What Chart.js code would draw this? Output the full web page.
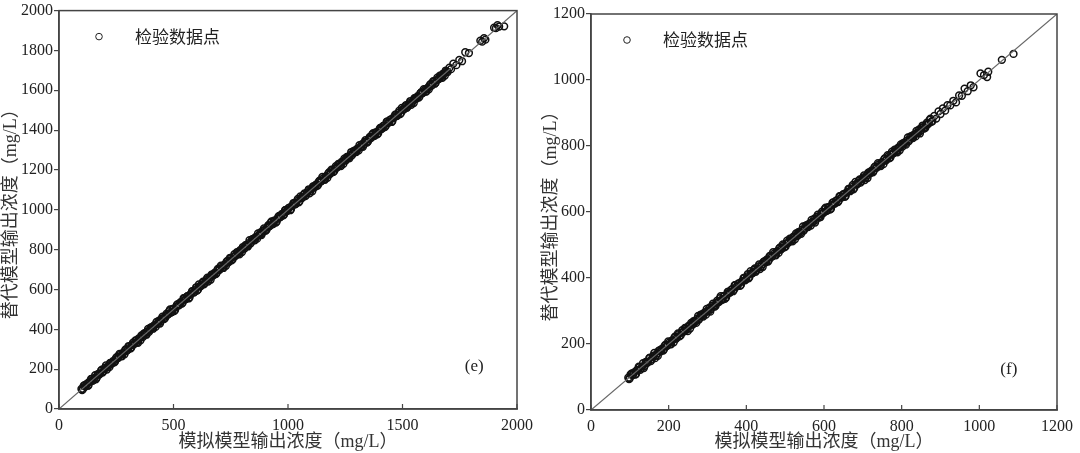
<!DOCTYPE html>
<html>
<head>
<meta charset="utf-8">
<script src="https://cdn.jsdelivr.net/npm/chart.js@4.4.1/dist/chart.umd.min.js"></script>
<style>
  body { margin: 0; background: #fff; }
  #wrap { position: relative; width: 1080px; height: 453px; }
  canvas { position: absolute; top: 0; }
  #c1 { left: 0; }
  #c2 { left: 540px; }
</style>
</head>
<body>
<div id="wrap">
  <canvas id="c1" width="540" height="453"></canvas>
  <canvas id="c2" width="540" height="453"></canvas>
</div>
<script>
// (e) 模拟模型输出浓度 vs 替代模型输出浓度, two batches of check points
const modelE = [98,105,112,118,126,133,140,147,155,161,169,176,184,190,198,205,213,220,227,235,242,249,257,264,271,279,286,293,301,308,316,323,330,338,345,352,360,367,375,382,389,397,404,411,419,426,434,441,448,456,463,470,478,485,493,500,507,515,522,530,537,544,552,559,566,574,581,589,596,603,611,618,626,633,640,648,655,662,670,677,685,692,699,707,714,722,729,736,744,751,758,766,773,781,788,795,803,810,818,825,832,840,847,855,862,869,877,884,891,899,906,914,921,928,936,943,951,958,965,973,980,987,995,1002,1010,1017,1024,1032,1039,1047,1054,1061,1069,1076,1083,1091,1098,1106,1113,1120,1128,1135,1143,1150,1157,1165,1172,1180,1187,1194,1202,1209,1216,1224,1231,1239,1246,1253,1261,1268,1276,1283,1290,1298,1305,1312,1320,1327,1335,1342,1349,1357,1364,1372,1379,1386,1394,1401,1408,1416,1423,1431,1438,1445,1453,1460,1468,1475,1482,1490,1497,1504,1512,1519,1527,1534,1541,1549,1556,1564,1571,1578,1586,1593,1600,1608,1615,1623,1630,1637,1645,1652,1660,1667,1674,1682,1689,1697,1705,1712,1722,1735,1748,1760,1774,1790,1840,1848,1856,1862,1900,1908,1915,1922,1944];
const surrogateE = [101,100,120,116,117,137,151,141,156,149,175,173,193,183,200,219,209,210,232,235,234,256,256,276,265,282,275,301,298,313,309,333,328,344,332,353,369,362,379,373,402,396,411,403,421,437,430,429,454,456,456,479,476,500,487,503,497,523,519,535,529,556,551,565,555,576,591,584,600,594,625,616,633,626,641,659,651,649,675,677,677,700,698,720,708,725,719,745,741,757,751,777,771,786,776,797,813,805,822,816,848,839,854,847,863,881,873,873,897,899,899,923,919,942,930,946,941,966,962,978,972,998,994,1008,998,1019,1034,1027,1043,1038,1067,1059,1076,1069,1084,1103,1094,1093,1118,1120,1120,1143,1142,1165,1151,1168,1161,1189,1184,1200,1195,1219,1214,1229,1219,1241,1257,1248,1265,1259,1290,1282,1297,1290,1306,1324,1316,1316,1341,1342,1342,1366,1362,1385,1373,1389,1384,1409,1405,1421,1415,1442,1437,1451,1441,1462,1478,1470,1486,1481,1512,1502,1519,1512,1528,1546,1537,1536,1561,1564,1563,1586,1585,1606,1594,1611,1605,1632,1627,1643,1638,1663,1658,1672,1662,1684,1699,1692,1713,1706,1734,1726,1752,1746,1791,1787,1849,1844,1862,1854,1914,1912,1927,1920,1921];
const modelE2 = [101,108,115,122,129,137,144,151,158,165,172,180,187,194,201,209,216,223,231,238,245,253,260,267,275,282,289,297,304,312,319,326,334,341,348,356,363,371,378,385,393,400,407,415,422,430,437,444,452,459,466,474,481,489,496,503,511,518,526,533,540,548,555,562,570,577,585,592,599,607,614,622,629,636,644,651,658,666,673,681,688,695,703,710,718,725,732,740,747,754,762,769,777,784,791,799,806,814,821,828,836,843,851,858,865,873,880,887,895,902,910,917,924,932,939,947,954,961,969,976,983,991,998,1006,1013,1020,1028,1035,1043,1050,1057,1065,1072,1079,1087,1094,1102,1109,1116,1124,1131,1139,1146,1153,1161,1168,1176,1183,1190,1198,1205,1212,1220,1227,1235,1242,1249,1257,1264,1272,1279,1286,1294,1301,1309,1316,1323,1331,1338,1345,1353,1360,1368,1375,1382,1390,1397,1405,1412,1419,1427,1434,1441,1449,1456,1464,1471,1478,1486,1493,1501,1508,1515,1523,1530,1538,1545,1552,1560,1567,1574,1582,1589,1597,1604,1611,1619,1626,1634,1641,1648,1656,1663,1670,1678,1685,1693];
const surrogateE2 = [95,117,113,127,119,138,151,147,170,157,175,179,197,189,207,198,218,231,228,242,239,262,258,272,265,283,296,293,316,304,322,325,344,336,354,345,365,379,375,389,387,409,405,420,412,431,444,440,464,451,469,473,491,484,502,492,513,526,523,537,534,557,553,567,560,578,592,588,611,599,617,621,639,631,650,640,660,674,670,685,682,704,701,715,708,726,739,736,759,746,765,768,787,779,797,788,808,822,818,832,830,852,849,863,855,874,887,883,907,894,913,916,934,927,945,936,956,969,966,980,977,1000,996,1011,1003,1021,1035,1031,1055,1042,1060,1064,1082,1074,1093,1083,1104,1117,1113,1128,1125,1148,1144,1158,1151,1169,1183,1179,1202,1190,1208,1211,1230,1222,1241,1231,1251,1265,1261,1276,1273,1295,1292,1306,1299,1317,1330,1327,1350,1337,1356,1359,1378,1370,1388,1379,1399,1413,1409,1423,1421,1443,1439,1454,1446,1465,1478,1474,1498,1485,1504,1507,1525,1518,1536,1527,1547,1560,1557,1571,1568,1591,1587,1602,1594,1612,1626,1622,1646,1633,1651,1655,1673,1665,1684,1674,1695];

// (f)
const modelF = [96,100,105,109,114,118,123,127,132,136,141,145,150,154,159,163,168,172,177,181,186,190,195,199,204,208,213,217,222,226,231,235,240,244,249,253,258,262,267,271,276,280,285,289,294,298,303,307,312,316,321,325,330,334,339,343,348,352,357,361,366,370,375,379,384,388,393,397,402,406,411,415,420,424,429,433,438,442,447,451,456,460,465,469,474,478,483,487,492,496,501,505,510,514,519,523,528,532,537,541,546,550,555,559,564,568,573,577,582,586,591,595,600,604,609,613,618,622,627,631,636,640,645,649,654,658,663,667,672,676,681,685,690,694,699,703,708,712,717,721,726,730,735,739,744,748,753,757,762,766,771,775,780,784,789,793,798,802,807,811,816,820,825,829,834,838,843,847,852,856,861,865,870,874,879,884,889,895,900,906,912,918,925,933,940,948,955,962,970,978,985,1003,1012,1020,1023,1058,1088];
const surrogateF = [98,96,111,108,107,121,131,122,132,127,146,143,157,148,160,173,165,164,181,181,180,195,194,208,200,210,205,223,220,230,226,242,239,247,239,254,264,259,269,264,285,279,290,283,295,306,300,298,316,316,316,331,328,345,335,345,341,358,355,364,360,378,374,383,376,389,400,393,405,399,421,414,425,419,429,441,435,433,451,451,450,466,464,478,470,480,476,493,490,499,495,513,509,518,511,524,535,528,540,534,556,549,560,554,565,576,570,568,586,586,585,601,599,613,605,615,610,628,625,634,630,648,644,653,646,659,670,663,675,669,691,684,695,689,700,711,705,703,721,721,720,736,734,748,740,750,745,763,760,769,765,783,779,788,781,794,805,798,810,804,826,819,830,824,835,846,840,838,856,856,855,871,869,883,875,891,883,905,897,914,907,924,923,937,932,953,952,974,966,984,978,1020,1015,1009,1025,1061,1079];
const modelF2 = [98,102,107,111,116,120,125,129,134,138,143,147,152,156,161,165,170,174,179,183,188,192,197,201,206,210,215,219,224,228,233,237,242,246,251,255,260,264,269,273,278,282,287,291,296,300,305,309,314,318,323,327,332,336,341,345,350,354,359,363,368,372,377,381,386,390,395,399,404,408,413,417,422,426,431,435,440,444,449,453,458,462,467,471,476,480,485,489,494,498,503,507,512,516,521,525,530,534,539,543,548,552,557,561,566,570,575,579,584,588,593,597,602,606,611,615,620,624,629,633,638,642,647,651,656,660,665,669,674,678,683,687,692,696,701,705,710,714,719,723,728,732,737,741,746,750,755,759,764,768,773,777,782,786,791,795,800,804,809,813,818,822,827,831,836,840,845,849,854,858,863,867,872,876];
const surrogateF2 = [94,108,106,114,109,121,130,126,142,133,145,146,159,153,165,157,171,179,177,186,184,198,196,204,199,211,220,216,232,223,235,236,249,243,255,247,261,269,267,276,274,288,286,294,289,301,310,306,322,313,325,326,339,333,345,337,351,359,357,366,364,378,376,384,379,391,400,396,412,403,415,416,429,423,435,427,441,449,447,456,454,468,466,474,469,481,490,486,502,493,505,506,519,513,525,517,531,539,537,546,544,558,556,564,559,571,580,576,592,583,595,596,609,603,615,607,621,629,627,636,634,648,646,654,649,661,670,666,682,673,685,686,699,693,705,697,711,719,717,726,724,738,736,744,739,751,760,756,772,763,775,776,789,783,795,787,801,809,807,816,814,828,826,834,829,841,850,846,862,853,865,866,879,873];

const legendText = '检验数据点';
const xTitle = '模拟模型输出浓度（mg/L）';
const yTitle = '替代模型输出浓度（mg/L）';

const serif = "'Liberation Serif', 'Times New Roman', 'Noto Sans CJK SC', serif";

const framePlugin = {
  id: 'frame',
  afterDatasetsDraw(chart, args, opts) {
    const { ctx, chartArea: a, scales } = chart;
    ctx.save();
    // inward x ticks
    ctx.strokeStyle = '#444';
    ctx.lineWidth = 1.2;
    scales.x.ticks.forEach(t => {
      const px = scales.x.getPixelForValue(t.value);
      ctx.beginPath();
      ctx.moveTo(px, a.bottom);
      ctx.lineTo(px, a.bottom - 5);
      ctx.stroke();
    });
    // box
    ctx.lineWidth = 1.5;
    ctx.strokeRect(a.left, a.top, a.right - a.left, a.bottom - a.top);
    // legend
    ctx.beginPath();
    ctx.lineWidth = 1;
    ctx.strokeStyle = '#222';
    ctx.arc(a.left + opts.legendX, a.top + 26, 3.3, 0, Math.PI * 2);
    ctx.stroke();
    ctx.fillStyle = '#222';
    ctx.font = "17px 'Noto Sans CJK SC', sans-serif";
    ctx.textBaseline = 'middle';
    ctx.textAlign = 'left';
    ctx.fillText(chart.data.datasets[1].label, a.left + opts.legendX + 36, a.top + 26);
    // panel tag
    ctx.font = '17px ' + serif;
    ctx.textAlign = 'center';
    ctx.fillText(opts.tag, scales.x.getPixelForValue(opts.tagX), scales.y.getPixelForValue(opts.tagY));
    ctx.restore();
  }
};

const makeChart = (canvas, xs, ys, max, xStep, cfg) => {
  const points = xs.map((x, i) => ({ x: x, y: ys[i] }));
  return new Chart(canvas, {
    type: 'scatter',
    data: {
      datasets: [
        {
          type: 'line',
          label: '1:1',
          data: [{ x: 0, y: 0 }, { x: max, y: max }],
          borderColor: '#666',
          borderWidth: 1.2,
          pointRadius: 0,
          order: 0,
        },
        {
          label: legendText,
          data: points,
          pointStyle: 'circle',
          pointRadius: 3.4,
          borderWidth: 1.5,
          borderColor: '#111',
          backgroundColor: 'rgba(255,255,255,0)',
          order: 1,
        },
      ],
    },
    options: {
      responsive: false,
      animation: false,
      layout: { padding: cfg.padding },
      plugins: {
        legend: { display: false },
        tooltip: { enabled: false },
        frame: { legendX: cfg.legendX, tag: cfg.tag, tagX: cfg.tagX, tagY: cfg.tagY },
      },
      scales: {
        x: {
          type: 'linear',
          min: 0,
          max: max,
          ticks: { stepSize: xStep, color: '#222', padding: 7, maxRotation: 0, font: { family: serif, size: 16 }, callback: (v) => v },
          grid: { display: false, drawTicks: false },
          border: { display: true, color: '#444', width: 1.5 },
          title: { display: true, text: xTitle, color: '#333', padding: { top: 0, bottom: 0 }, font: { family: serif, size: 18 } },
          afterFit: (s) => { s.height = cfg.xh; },
        },
        y: {
          type: 'linear',
          min: 0,
          max: max,
          ticks: { stepSize: 200, color: '#222', padding: 1, font: { family: serif, size: 16 }, callback: (v) => v },
          grid: { drawOnChartArea: false, drawTicks: true, tickLength: 5, color: '#444', lineWidth: 1.2 },
          border: { display: true, color: '#444', width: 1.5 },
          title: { display: true, text: yTitle, color: '#333', padding: { top: 0, bottom: 0 }, font: { family: serif, size: 18 } },
          afterFit: (s) => { s.width = cfg.yw; },
        },
      },
    },
    plugins: [framePlugin],
  });
};

makeChart(document.getElementById('c1'), modelE.concat(modelE2), surrogateE.concat(surrogateE2), 2000, 500,
  { padding: { top: 6, right: 20, left: 0, bottom: 0 }, xh: 44, yw: 59, legendX: 40, tag: '(e)', tagX: 1813, tagY: 213 });
makeChart(document.getElementById('c2'), modelF.concat(modelF2), surrogateF.concat(surrogateF2), 1200, 200,
  { padding: { top: 14, right: 16, left: 0, bottom: 0 }, xh: 43, yw: 51, legendX: 36, tag: '(f)', tagX: 1076, tagY: 124 });
</script>
</body>
</html>
